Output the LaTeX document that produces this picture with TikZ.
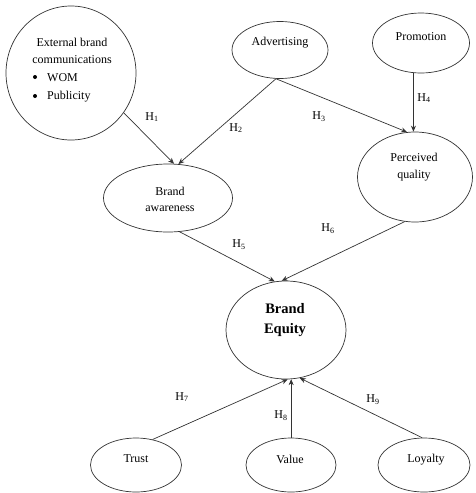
\documentclass[tikz,border=0pt]{standalone}
\usepackage{fontspec}
\setmainfont{Liberation Serif}
\usetikzlibrary{shapes.geometric,arrows.meta}
\begin{document}
\begin{tikzpicture}[x=1pt,y=-1pt,
  ell/.style={draw=black!80,line width=0.7pt,ellipse,inner sep=0pt},
  txt/.style={font=\fontsize{12}{18}\selectfont,inner sep=0pt,align=center},
  hyp/.style={font=\fontsize{12}{14}\selectfont,inner sep=0pt},
  bul/.style={fill=black,circle,inner sep=0pt,minimum size=4pt},
  arr/.style={draw=black!80,line width=0.7pt,-{Stealth[length=6pt,width=5pt]}}]
\useasboundingbox (0,0) rectangle (475,493);
% ellipses
\node[ell,minimum width=130pt,minimum height=134pt] (ext) at (71,73) {};
\node[ell,minimum width=96pt,minimum height=57pt] (adv) at (280,50) {};
\node[ell,minimum width=97pt,minimum height=60pt] (pro) at (421,43) {};
\node[ell,minimum width=115pt,minimum height=90pt] (pq) at (415,177) {};
\node[ell,minimum width=129pt,minimum height=68pt] (ba) at (168,198) {};
\node[ell,minimum width=120pt,minimum height=98pt] (be) at (286,330) {};
\node[ell,minimum width=91pt,minimum height=54pt] (tr) at (136,465) {};
\node[ell,minimum width=90pt,minimum height=54pt] (va) at (291,465) {};
\node[ell,minimum width=92pt,minimum height=54pt] (lo) at (424,465) {};
% texts
\node[txt] (ext1) at (72,42) {External brand};
\node[txt] (ext2) at (72,60) {communications};
\node[bul] (b1) at (35,77) {};
\node[txt,anchor=west] (ext3) at (47,78) {WOM};
\node[bul] (b2) at (35,96) {};
\node[txt,anchor=west] (ext4) at (47,97) {Publicity};
\node[txt] (advt) at (280,43) {Advertising};
\node[txt] (prot) at (421,37) {Promotion};
\node[txt] (pq1) at (414,157) {Perceived};
\node[txt] (pq2) at (414,176) {quality};
\node[txt] (ba1) at (170,191) {Brand};
\node[txt] (ba2) at (170,209) {awareness};
\node[txt,font=\fontsize{14.5}{20}\bfseries] (be1) at (285,309) {Brand};
\node[txt,font=\fontsize{14.5}{20}\bfseries] (be2) at (285,330) {Equity};
\node[txt] (trt) at (136,459) {Trust};
\node[txt] (vat) at (290,459) {Value};
\node[txt] (lot) at (426,460) {Loyalty};
% arrows
\draw[arr] (ext.-37) -- (ba.80);
\draw[arr] (adv.-98) -- (ba.73);
\draw[arr] (adv.-98) -- (pq.100);
\draw[arr] (pro.south -| pq.92) -- (pq.92);
\draw[arr] (ba.-71) -- (be.103);
\draw[arr] (pq.-103) -- (be.95);
\draw[arr] (tr.57) -- (be.-88);
\draw[arr] (va.north -| be.-84) -- (be.-84);
\draw[arr] (lo.94) -- (be.-74);
% hypothesis labels
\node[hyp] (h1) at (152,117) {H\textsubscript{1}};
\node[hyp] (h2) at (236,128) {H\textsubscript{2}};
\node[hyp] (h3) at (319,117) {H\textsubscript{3}};
\node[hyp] (h4) at (424,98) {H\textsubscript{4}};
\node[hyp] (h5) at (239,245) {H\textsubscript{5}};
\node[hyp] (h6) at (328,229) {H\textsubscript{6}};
\node[hyp] (h7) at (182,397) {H\textsubscript{7}};
\node[hyp] (h8) at (281,416) {H\textsubscript{8}};
\node[hyp] (h9) at (373,400) {H\textsubscript{9}};
\end{tikzpicture}
\end{document}
